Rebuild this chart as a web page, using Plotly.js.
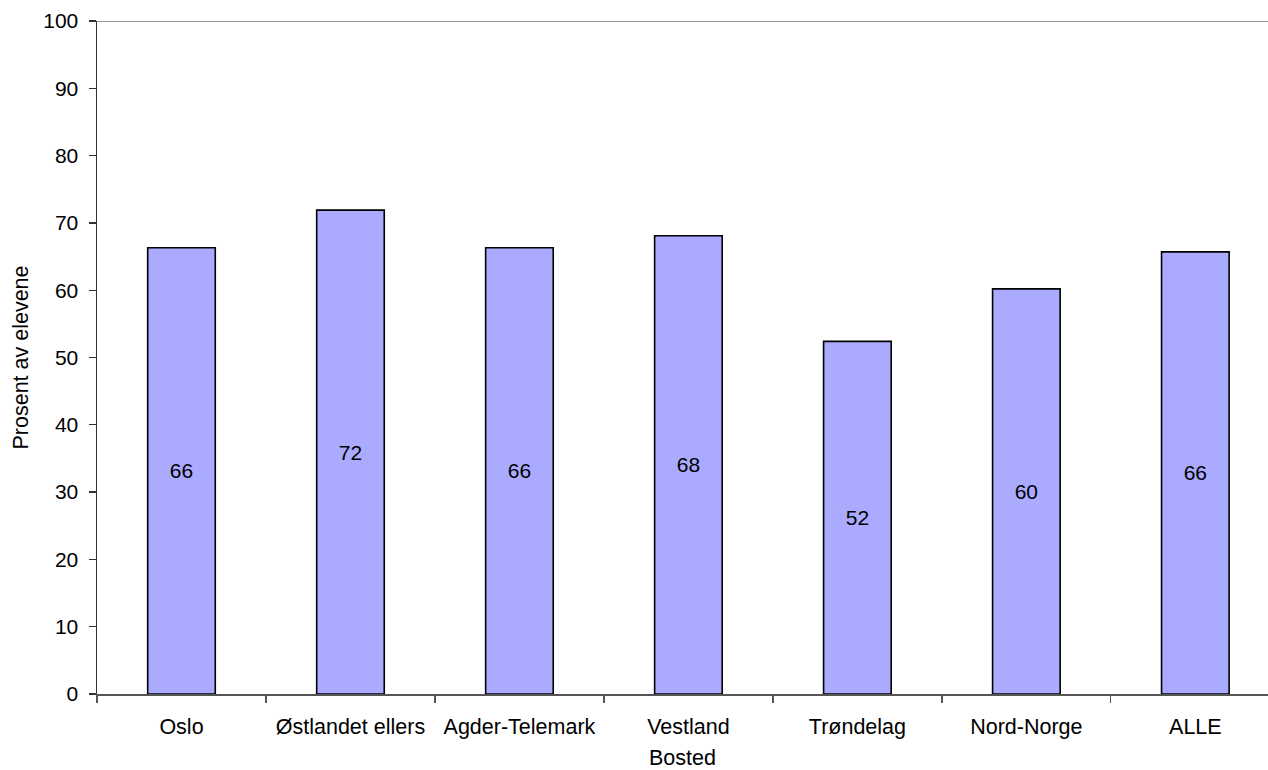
<!DOCTYPE html>
<html>
<head>
<meta charset="utf-8">
<script src="https://cdn.plot.ly/plotly-3.0.1.min.js"></script>
<style>
html,body{margin:0;padding:0;background:#fff;}
#chart{width:1268px;height:770px;}
</style>
</head>
<body>
<div id="chart"></div>
<script>
const categories = ["Oslo", "Østlandet ellers", "Agder-Telemark", "Vestland", "Trøndelag", "Nord-Norge", "ALLE"];
const values = [66.3, 71.9, 66.3, 68.1, 52.4, 60.2, 65.7];
const labels = ["66", "72", "66", "68", "52", "60", "66"];
const yTicks = [0, 10, 20, 30, 40, 50, 60, 70, 80, 90, 100];

const FONT = "Liberation Sans, Arial, sans-serif";
const FS = 21.5;

const trace = {
  type: "bar",
  x: categories,
  y: values,
  text: labels,
  textposition: "inside",
  insidetextanchor: "middle",
  textangle: 0,
  textfont: {family: FONT, size: 21, color: "#000"},
  marker: {color: "#AAAAFF", line: {color: "#000", width: 1.6}},
  hoverinfo: "skip"
};

const layout = {
  width: 1268,
  height: 770,
  margin: {l: 97, r: 0, t: 21, b: 76},
  paper_bgcolor: "#fff",
  plot_bgcolor: "#fff",
  bargap: 0.6,
  showlegend: false,
  font: {family: FONT, size: FS, color: "#000"},
  xaxis: {
    type: "category",
    range: [-0.5, 6.43],
    tickson: "boundaries",
    ticks: "outside",
    ticklen: 7,
    tickcolor: "#555",
    tickwidth: 1.3,
    showline: true,
    linecolor: "#555",
    linewidth: 1.5,
    showgrid: false,
    zeroline: false,
    ticklabelstandoff: 13,
    tickfont: {family: FONT, size: FS, color: "#000"},
    title: {text: "Bosted", font: {family: FONT, size: FS, color: "#000"}, standoff: 18}
  },
  yaxis: {
    range: [0, 100],
    tickvals: yTicks,
    ticktext: yTicks.map(String),
    ticks: "outside",
    ticklen: 7,
    tickcolor: "#333",
    tickwidth: 1.3,
    showline: true,
    linecolor: "#333",
    linewidth: 1.5,
    showgrid: false,
    zeroline: false,
    ticklabelstandoff: 6,
    tickfont: {family: FONT, size: 21, color: "#000"},
    title: {text: "Prosent av elevene", font: {family: FONT, size: FS, color: "#000"}, standoff: 8}
  },
  shapes: [{
    type: "line", xref: "paper", yref: "y",
    x0: 0, x1: 1, y0: 100, y1: 100,
    line: {color: "#999", width: 2}
  }]
};

Plotly.newPlot("chart", [trace], layout, {displayModeBar: false, staticPlot: true});
</script>
</body>
</html>
